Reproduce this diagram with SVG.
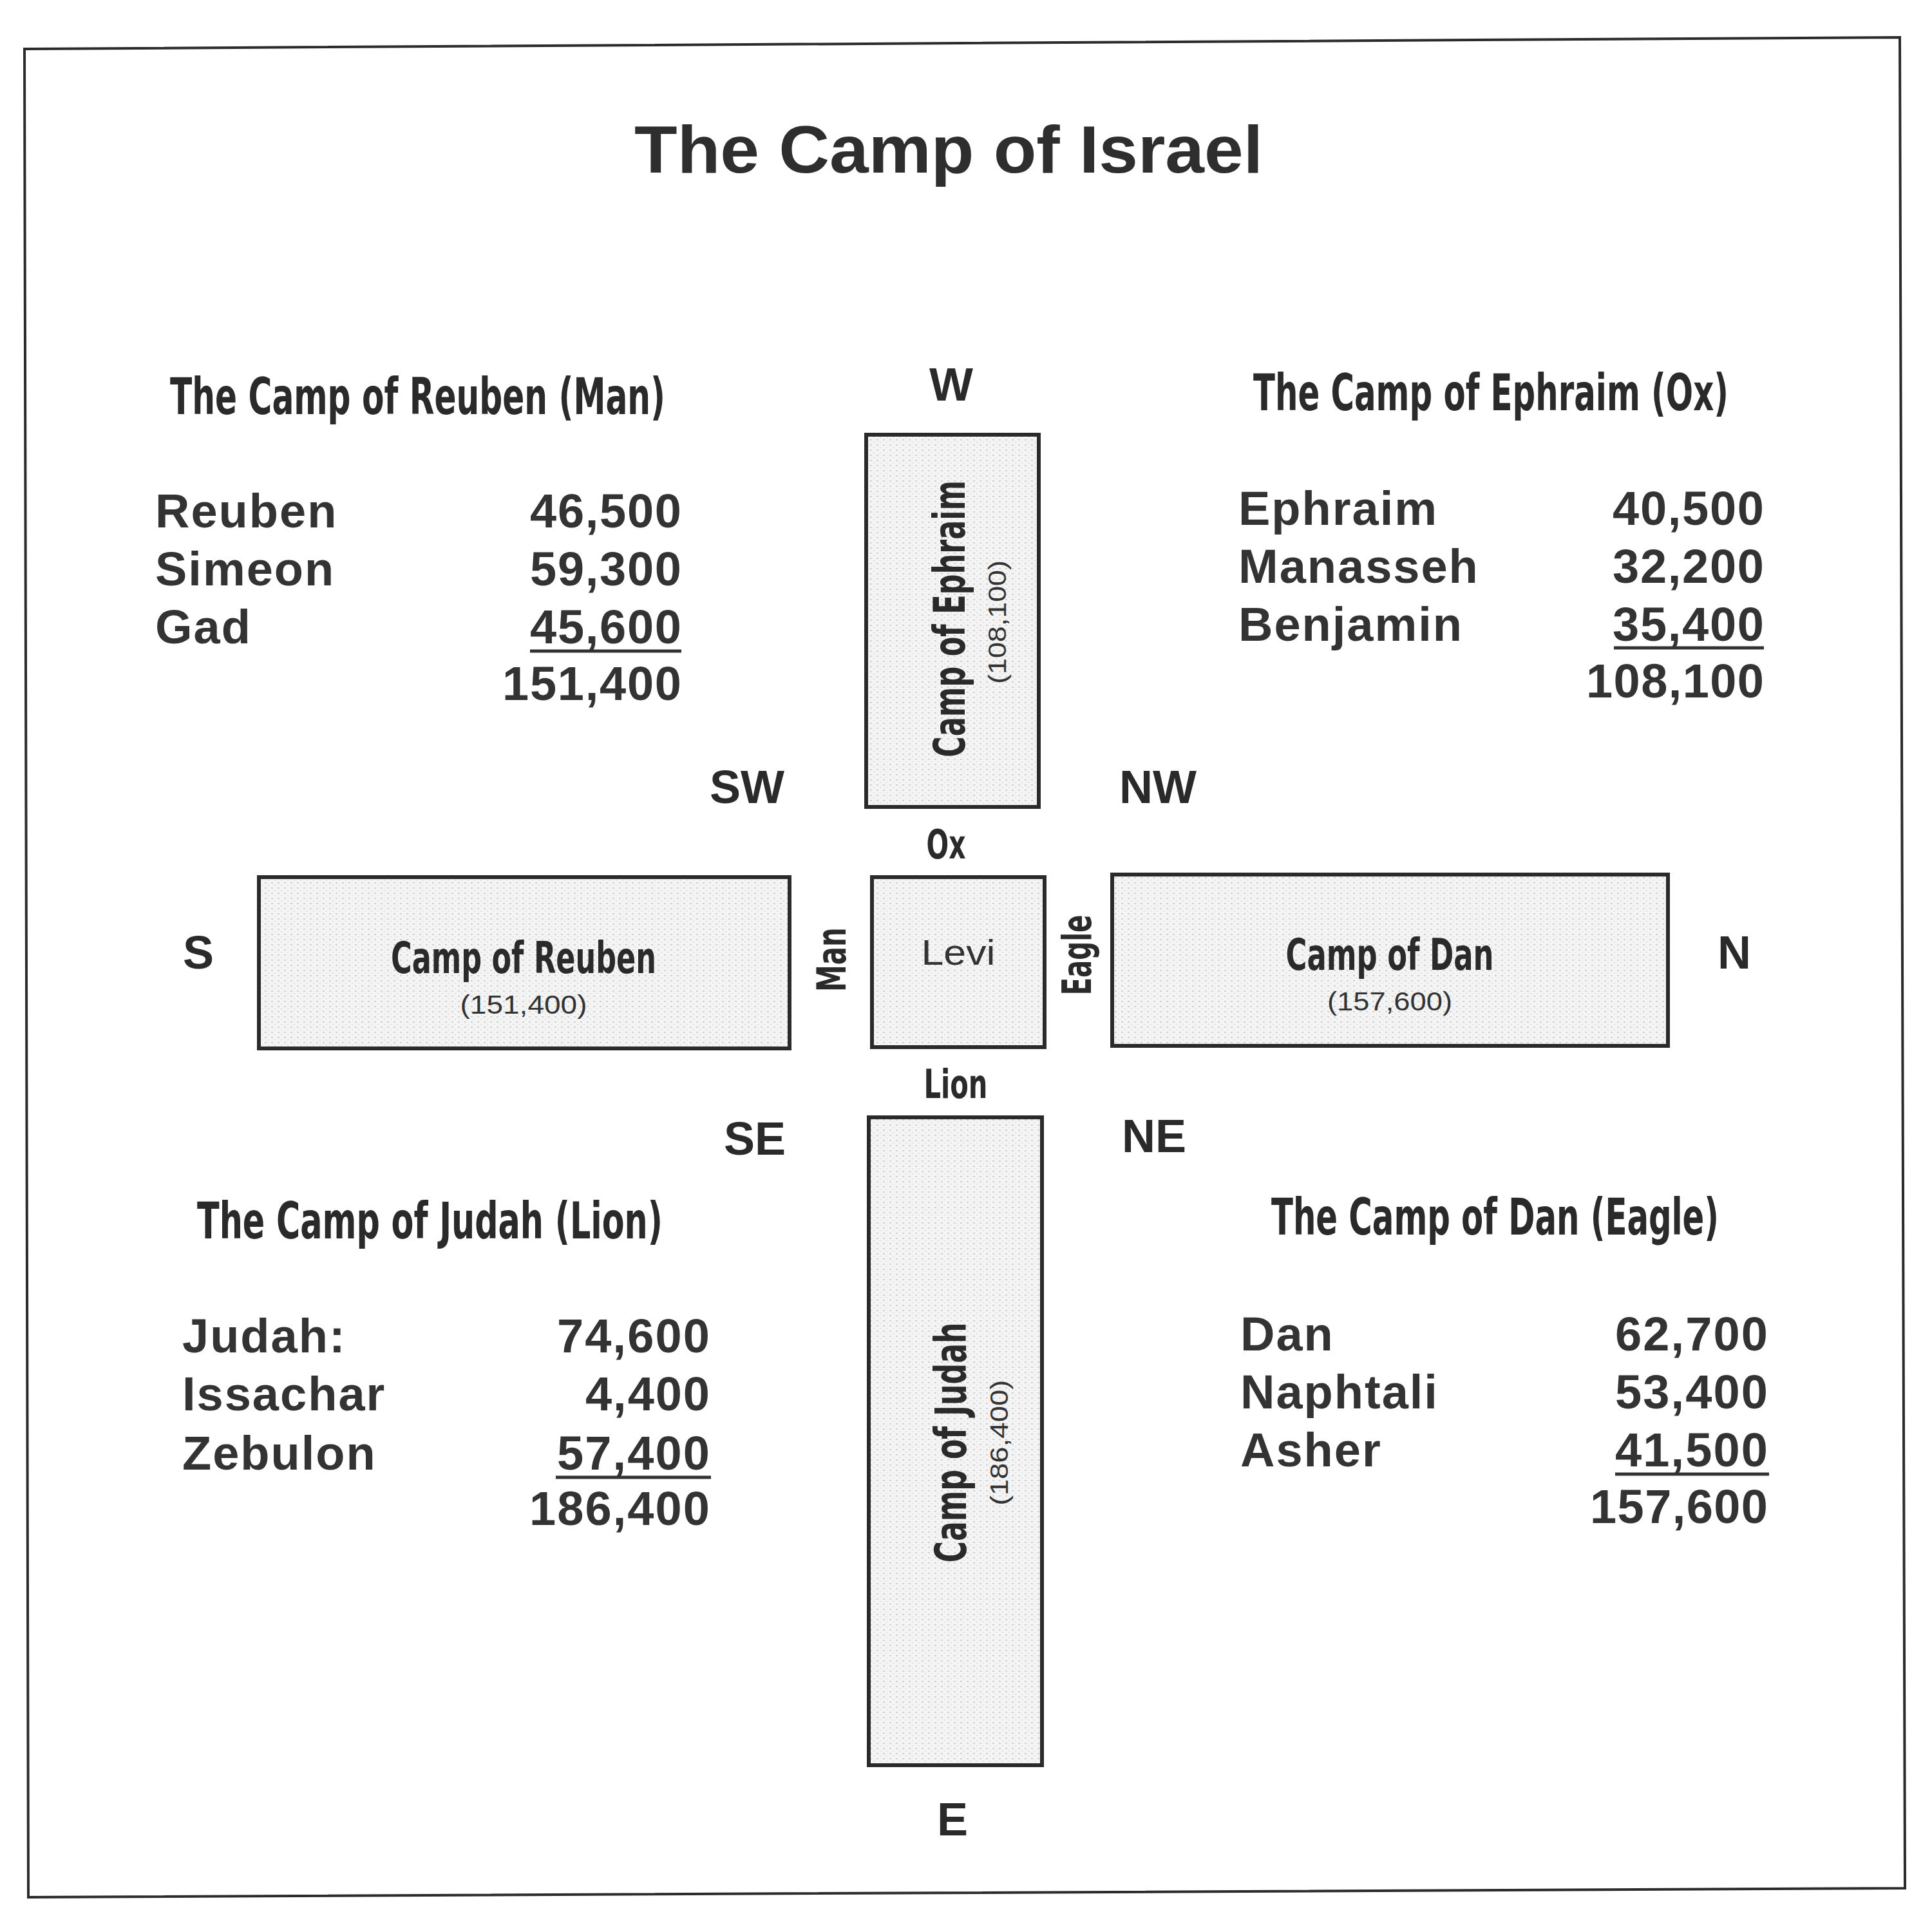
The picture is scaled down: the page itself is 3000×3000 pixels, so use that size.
<svg xmlns="http://www.w3.org/2000/svg" width="3000" height="3000" viewBox="0 0 3000 3000">
<style>
.frame{fill:none;stroke:#2b2b2b;stroke-width:4}
.box{fill:url(#stipple);stroke:#2a2a2a;stroke-width:6}
.title{font-family:"Liberation Sans",Arial,sans-serif;font-weight:bold;font-size:104px;fill:#2e2e2e;text-anchor:middle}
.head{font-family:"Liberation Sans Narrow","DejaVu Sans Condensed","Liberation Sans",sans-serif;font-weight:bold;font-size:78px;fill:#2a2a2a}
.cond{font-family:"Liberation Sans Narrow","DejaVu Sans Condensed","Liberation Sans",sans-serif;font-weight:bold;fill:#2a2a2a;text-anchor:middle}
.small{font-family:"Liberation Sans Narrow","Liberation Sans",sans-serif;font-weight:normal;fill:#333;text-anchor:middle}
.name{font-family:"Liberation Sans",Arial,sans-serif;font-weight:bold;font-size:74px;fill:#333;letter-spacing:2px}
.num{font-family:"Liberation Sans",Arial,sans-serif;font-weight:bold;font-size:74px;fill:#333;text-anchor:end}
.dir{font-family:"Liberation Sans",Arial,sans-serif;font-weight:bold;font-size:72px;fill:#2a2a2a;text-anchor:middle}
.rule{stroke:#333;stroke-width:5}
</style>
<defs>
<pattern id="stipple" width="10" height="8" patternUnits="userSpaceOnUse">
<rect width="10" height="8" fill="#f4f4f4"/>
<rect x="1" y="2" width="3" height="2" fill="#d2d2d2"/>
<rect x="6" y="6" width="2" height="1.5" fill="#dcdcdc"/>
</pattern>
</defs>
<rect width="3000" height="3000" fill="#ffffff"/>
<path class="frame" d="M38 76 L2950 58 L2958 2932 L44 2946 Z"/>
<text class="title" x="1473" y="268" textLength="976" lengthAdjust="spacingAndGlyphs">The Camp of Israel</text>

<g id="reuben-list">
<text class="head" x="264" y="643" textLength="769" lengthAdjust="spacingAndGlyphs">The Camp of Reuben (Man)</text>
<text class="name" x="241" y="819">Reuben</text>
<text class="name" x="241" y="909">Simeon</text>
<text class="name" x="241" y="999">Gad</text>
<text class="num" x="1058" y="819" textLength="235">46,500</text>
<text class="num" x="1058" y="909" textLength="235">59,300</text>
<text class="num" x="1058" y="999" textLength="235">45,600</text>
<line class="rule" x1="823" y1="1011" x2="1058" y2="1011"/>
<text class="num" x="1058" y="1087" textLength="278">151,400</text>
</g>

<g id="ephraim-list">
<text class="head" x="1946" y="637" textLength="738" lengthAdjust="spacingAndGlyphs">The Camp of Ephraim (Ox)</text>
<text class="name" x="1923" y="815">Ephraim</text>
<text class="name" x="1923" y="905">Manasseh</text>
<text class="name" x="1923" y="995">Benjamin</text>
<text class="num" x="2739" y="815" textLength="235">40,500</text>
<text class="num" x="2739" y="905" textLength="235">32,200</text>
<text class="num" x="2739" y="995" textLength="235">35,400</text>
<line class="rule" x1="2506" y1="1006" x2="2739" y2="1006"/>
<text class="num" x="2739" y="1083" textLength="276">108,100</text>
</g>

<g id="judah-list">
<text class="head" x="306" y="1923" textLength="723" lengthAdjust="spacingAndGlyphs">The Camp of Judah (Lion)</text>
<text class="name" x="283" y="2100">Judah:</text>
<text class="name" x="283" y="2190">Issachar</text>
<text class="name" x="283" y="2282">Zebulon</text>
<text class="num" x="1102" y="2100" textLength="237">74,600</text>
<text class="num" x="1102" y="2190" textLength="193">4,400</text>
<text class="num" x="1102" y="2282" textLength="237">57,400</text>
<line class="rule" x1="863" y1="2294" x2="1104" y2="2294"/>
<text class="num" x="1102" y="2368" textLength="280">186,400</text>
</g>

<g id="dan-list">
<text class="head" x="1974" y="1917" textLength="695" lengthAdjust="spacingAndGlyphs">The Camp of Dan (Eagle)</text>
<text class="name" x="1926" y="2097">Dan</text>
<text class="name" x="1926" y="2187">Naphtali</text>
<text class="name" x="1926" y="2277">Asher</text>
<text class="num" x="2745" y="2097" textLength="237">62,700</text>
<text class="num" x="2745" y="2187" textLength="237">53,400</text>
<text class="num" x="2745" y="2277" textLength="237">41,500</text>
<line class="rule" x1="2508" y1="2289" x2="2747" y2="2289"/>
<text class="num" x="2745" y="2365" textLength="276">157,600</text>
</g>

<g id="compass">
<text class="dir" x="1477" y="622">W</text>
<text class="dir" x="1160" y="1247">SW</text>
<text class="dir" x="1798" y="1247">NW</text>
<text class="dir" x="308" y="1504">S</text>
<text class="dir" x="2693" y="1504">N</text>
<text class="dir" x="1172" y="1793">SE</text>
<text class="dir" x="1792" y="1789">NE</text>
<text class="dir" x="1479" y="2850">E</text>
</g>

<g id="node-ephraim">
<rect class="box" x="1345" y="675" width="268" height="578"/>
<text class="cond" x="1498" y="961" font-size="68" transform="rotate(-90 1498 961)" textLength="430" lengthAdjust="spacingAndGlyphs">Camp of Ephraim</text>
<text class="small" x="1562" y="966" font-size="38" transform="rotate(-90 1562 966)" textLength="192" lengthAdjust="spacingAndGlyphs">(108,100)</text>
</g>

<g id="node-reuben">
<rect class="box" x="402" y="1362" width="824" height="266"/>
<text class="cond" x="813" y="1511" font-size="68" textLength="412" lengthAdjust="spacingAndGlyphs">Camp of Reuben</text>
<text class="small" x="813" y="1574" font-size="40" textLength="197" lengthAdjust="spacingAndGlyphs">(151,400)</text>
</g>

<g id="node-levi">
<rect class="box" x="1354" y="1362" width="268" height="264"/>
<text class="small" x="1488" y="1498" font-size="56" textLength="115" lengthAdjust="spacingAndGlyphs">Levi</text>
</g>

<g id="node-dan">
<rect class="box" x="1727" y="1358" width="863" height="266"/>
<text class="cond" x="2158" y="1506" font-size="68" textLength="323" lengthAdjust="spacingAndGlyphs">Camp of Dan</text>
<text class="small" x="2158" y="1569" font-size="40" textLength="194" lengthAdjust="spacingAndGlyphs">(157,600)</text>
</g>

<g id="node-judah">
<rect class="box" x="1349" y="1735" width="269" height="1006"/>
<text class="cond" x="1500" y="2240" font-size="68" transform="rotate(-90 1500 2240)" textLength="373" lengthAdjust="spacingAndGlyphs">Camp of Judah</text>
<text class="small" x="1565" y="2240" font-size="38" transform="rotate(-90 1565 2240)" textLength="195" lengthAdjust="spacingAndGlyphs">(186,400)</text>
</g>

<g id="emblems">
<text class="cond" x="1469" y="1333" font-size="62" textLength="61" lengthAdjust="spacingAndGlyphs">Ox</text>
<text class="cond" x="1313" y="1490" font-size="62" transform="rotate(-90 1313 1490)" textLength="100" lengthAdjust="spacingAndGlyphs">Man</text>
<text class="cond" x="1694" y="1483" font-size="62" transform="rotate(-90 1694 1483)" textLength="125" lengthAdjust="spacingAndGlyphs">Eagle</text>
<text class="cond" x="1484" y="1705" font-size="62" textLength="99" lengthAdjust="spacingAndGlyphs">Lion</text>
</g>

<g id="connectors"/>
</svg>
